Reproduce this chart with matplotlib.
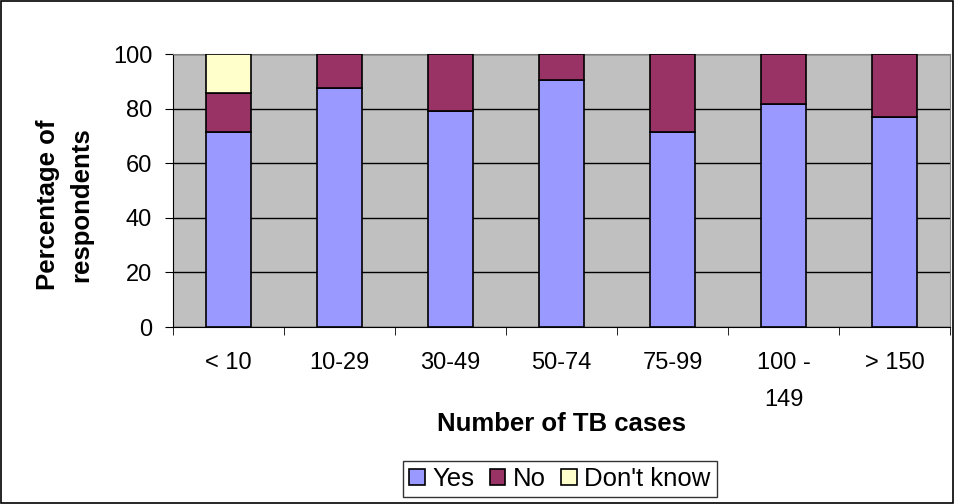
import numpy as np
import matplotlib.pyplot as plt
from matplotlib.patches import Rectangle

plt.rcParams['font.family'] = ['Liberation Sans', 'DejaVu Sans']

categories = ["< 10", "10-29", "30-49", "50-74", "75-99", "100 -\n149", "> 150"]
yes = [71.4, 87.5, 79.3, 90.4, 71.4, 81.6, 77.1]
no = [14.3, 12.5, 20.7, 9.6, 28.6, 18.4, 22.9]
dont_know = [14.3, 0, 0, 0, 0, 0, 0]

fs = 17
fs_lab = 18.5

fig = plt.figure(figsize=(9.55, 5.04), dpi=100)
ax = fig.add_axes([173 / 955, 1 - 327 / 504, 777 / 955, 273 / 504])
ax.set_facecolor('#C0C0C0')

x = np.arange(len(categories))
w = 0.4
ax.bar(x, yes, w, color='#9999FF', edgecolor='black', linewidth=1.2, label='Yes', zorder=3)
ax.bar(x, no, w, bottom=yes, color='#993366', edgecolor='black', linewidth=1.2, label='No', zorder=3)
bot2 = [a + b for a, b in zip(yes, no)]
dk = [d if d > 0 else np.nan for d in dont_know]
ax.bar(x, dk, w, bottom=bot2, color='#FFFFCC', edgecolor='black', linewidth=1.2, label="Don't know", zorder=3)

ax.set_xlim(-0.5, len(categories) - 0.5)
ax.set_ylim(0, 100)
ax.set_yticks(range(0, 101, 20))
ax.yaxis.grid(True, color='black', linewidth=1)
ax.set_axisbelow(True)

ax.set_xticks(x)
ax.set_xticklabels(categories, fontsize=fs, va='top', ha='center', multialignment='center', linespacing=1.9)
ax.set_xticks(np.arange(-0.5, len(categories), 1), minor=True)
ax.tick_params(axis='x', which='major', length=0, pad=18)
ax.tick_params(axis='x', which='minor', length=6, direction='out')
ax.tick_params(axis='y', labelsize=fs, length=6, direction='out', pad=9)

for s in ['top', 'right']:
    ax.spines[s].set_color('#808080')
ax.spines['left'].set_color('black')
ax.spines['bottom'].set_color('black')

ax.set_ylabel("Percentage of\nrespondents", fontsize=fs_lab, fontweight='bold', va='center', ha='center',
              linespacing=1.45)
ax.yaxis.set_label_coords(-0.1396, 0.447)
ax.set_xlabel("Number of TB cases", fontsize=fs_lab, fontweight='bold', va='center')
ax.xaxis.set_label_coords(0.5, -0.355)

leg = fig.legend(loc='center', bbox_to_anchor=(560 / 955, 1 - 479 / 504), ncol=3, fontsize=fs_lab,
                 frameon=True, fancybox=False, edgecolor='black', handlelength=0.6,
                 handleheight=0.6, handletextpad=0.3, columnspacing=0.6, borderpad=0.25)
leg.get_frame().set_linewidth(1)

fig.patches.append(Rectangle((0.001, 0.001), 0.997, 0.997, transform=fig.transFigure,
                             fill=False, edgecolor='black', linewidth=1.2))

fig.savefig('out.png', dpi=100)
